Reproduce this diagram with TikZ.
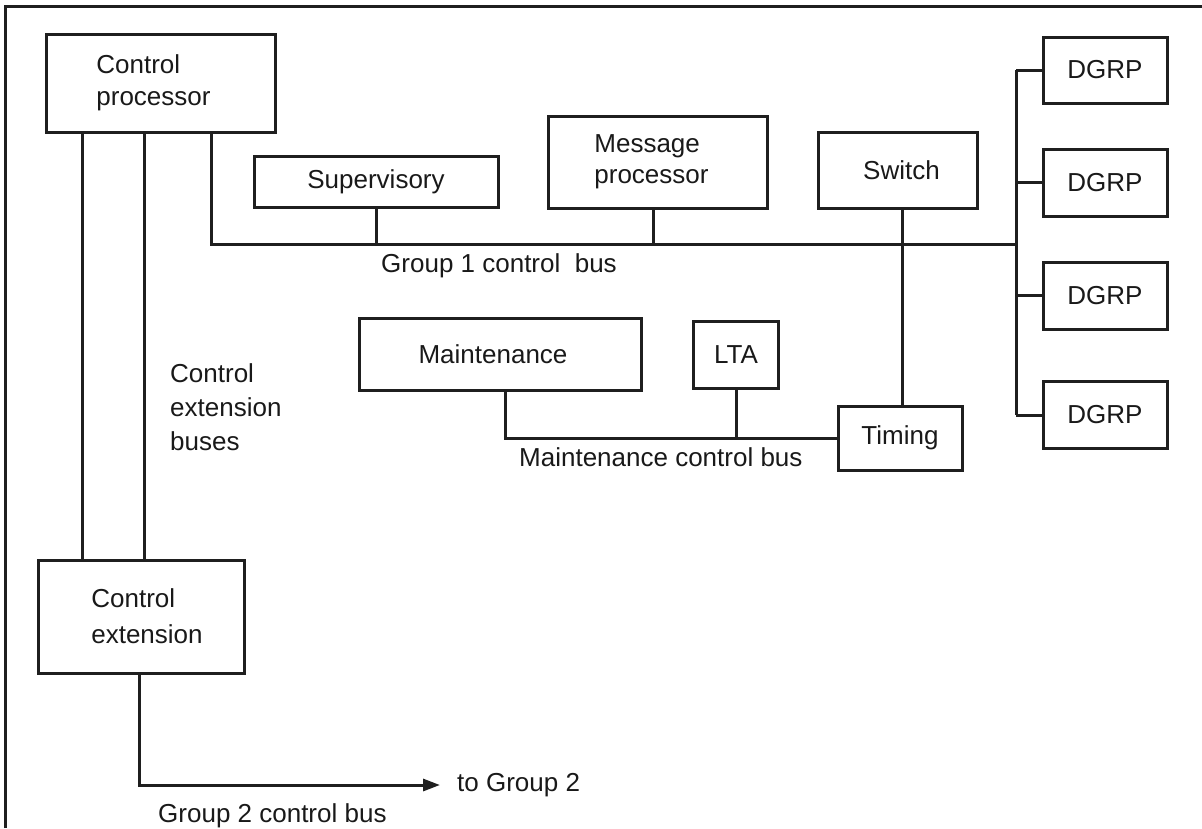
\documentclass[tikz,border=0pt]{standalone}
\usepackage{fontspec}
\setmainfont{Liberation Sans}
\usetikzlibrary{arrows.meta}
\begin{document}
\begin{tikzpicture}[x=1pt,y=-1pt,
  wire/.style={line width=3pt, draw=black!88},
  txt/.style={text=black!90, font=\fontsize{26}{32}\selectfont},
  box/.style={wire, rectangle, inner sep=0pt, txt, align=center},
  lbl/.style={inner sep=0pt, txt}]
\useasboundingbox (0,0) rectangle (1202,828);

% outer frame (top and left edges)
\draw[wire] (5,828) -- (5,6) -- (1202,6);

% units
\node[box, align=left, minimum width=229pt, minimum height=98pt] (cp) at (160.5,83) {Control\\processor\hspace*{14pt}};
\node[box, minimum width=244pt, minimum height=51pt] (sup) at (376,181.5) {Supervisory};
\node[box, align=left, font=\fontsize{26}{31}\selectfont, minimum width=219pt, minimum height=92pt] (msg) at (657.5,162) {Message\\processor\hspace*{12pt}};
\node[box, minimum width=159pt, minimum height=76pt] (sw) at (897.5,170) {\hspace*{8pt}Switch};
\node[box, minimum width=124pt, minimum height=66pt] (dg1) at (1105,70) {DGRP};
\node[box, minimum width=124pt, minimum height=67pt] (dg2) at (1105,182.5) {DGRP};
\node[box, minimum width=124pt, minimum height=67pt] (dg3) at (1105,295.5) {DGRP};
\node[box, minimum width=124pt, minimum height=67pt] (dg4) at (1105,415) {DGRP};
\node[box, minimum width=282pt, minimum height=72pt] (mnt) at (500,354) {Maintenance\hspace*{14pt}};
\node[box, minimum width=85pt, minimum height=67pt] (lta) at (736,354.5) {LTA};
\node[box, minimum width=124pt, minimum height=64pt] (tim) at (900,438) {Timing};
\node[box, align=left, font=\fontsize{26}{36}\selectfont, minimum width=206pt, minimum height=113pt] (ce) at (141,616.5) {\hspace*{12pt}Control\\\hspace*{12pt}extension};

% bus labels
\node[lbl, anchor=base west] (g1l) at (381,272) {Group 1 control\ \ bus};
\node[lbl, anchor=base west] (mcl) at (519,466) {Maintenance control bus};
\node[lbl, anchor=north west, align=left, font=\fontsize{26}{34}\selectfont] (cel) at (170,363) {Control\\extension\\buses};
\node[lbl, anchor=west] (to2) at (457,785) {to Group 2};
\node[lbl, anchor=base west] (g2l) at (158,822) {Group 2 control bus};

% bus corner points
\coordinate (b1s) at (211,244);
\coordinate (b1e) at (1016,244);
\coordinate (ceA) at (82,0);
\coordinate (ceB) at (144,0);
\coordinate (swx) at (902,0);
\coordinate (msx) at (653,0);
\coordinate (mb) at (505,438);
\coordinate (g2) at (139,785);

% control extension buses
\draw[wire] (cp.south -| ceA) -- (ce.north -| ceA);
\draw[wire] (cp.south -| ceB) -- (ce.north -| ceB);

% group 1 control bus
\draw[wire] (cp.south -| b1s) -- (b1s) -- (b1e);
\draw[wire] (sup.south) -- (sup.south |- b1s);
\draw[wire] (msg.south -| msx) -- (b1s -| msx);
\draw[wire] (sw.south -| swx) -- (tim.north -| swx);
\draw[wire] (dg1.west -| b1e) -- (dg4.west -| b1e);
\foreach \d in {dg1,dg2,dg3,dg4}
  \draw[wire] (\d.west) -- (\d.west -| b1e);

% maintenance control bus
\draw[wire] (mnt.south -| mb) -- (mb) -- (tim.west);
\draw[wire] (lta.south) -- (lta.south |- mb);

% group 2 control bus
\draw[wire, -{Triangle[length=17pt,width=12pt]}] (ce.south -| g2) -- (g2) -- ([xshift=-17pt]to2.west);
\end{tikzpicture}
\end{document}
